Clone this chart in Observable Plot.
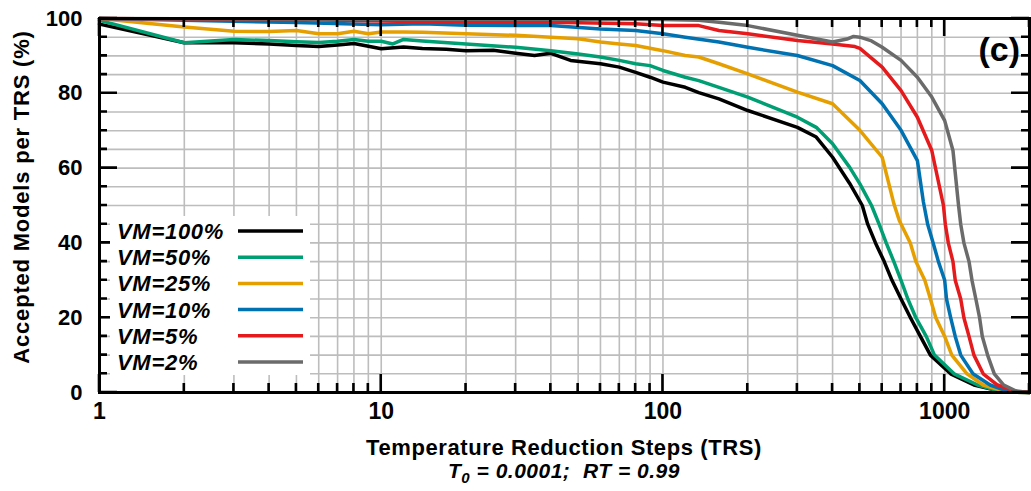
<!DOCTYPE html>
<html><head><meta charset="utf-8">
<script src="https://cdn.jsdelivr.net/npm/d3@7"></script>
<script src="https://cdn.jsdelivr.net/npm/@observablehq/plot@0.6"></script>
<style>
html,body{margin:0;padding:0;background:#fff;}
#chart{position:relative;width:1031px;height:491px;}
</style></head><body><div id="chart"></div>
<script>
// ---- data ----
const seriesNames = ["VM=100%","VM=50%","VM=25%","VM=10%","VM=5%","VM=2%"];
const seriesColors = ["#000000","#009E73","#E69F00","#0072B2","#E41A1C","#6B6B6B"];

const trs100 = [1,2,3,4,5,6,7,8,9,10,12,14,17,20,25,30,35,40,47,60,70,80,90,100,120,134,158,200,300,350,400,460,510,533,568,610,650,700,756,820,890,1050,1270,1540,1800,2000];
const acc100 = [98.5,93.5,93.5,93.2,92.8,92.5,92.9,93.3,92.6,91.9,92.4,92.0,91.8,91.4,91.5,90.7,90.1,90.7,88.8,87.9,87.0,85.6,84.3,83.0,81.6,80.2,78.5,75.4,70.9,68.3,62.9,55.9,50,45,40,35,30,25,20,15,10,5,2,0.5,0.1,0];

const trs50 = [1,2,3,4,5,6,7,8,9,10,11,12,14,20,30,40,50,60,70,80,90,100,120,134,158,200,300,350,400,460,500,550,585,620,660,700,740,790,860,920,1080,1310,1540,1800,2000];
const acc50 = [99.5,93.5,94.4,94.1,93.8,93.6,93.9,94.4,93.9,93.9,93.2,94.4,94.0,93.2,92.3,91.4,90.5,89.7,88.8,87.9,87.4,86.1,84.3,83.4,81.6,79.0,73.6,70.9,66.5,60.2,55.8,50,45,40,35,30,25,20,15,10,5,2,0.5,0.1,0];

const trs25 = [1,2,3,4,5,6,7,8,9,10,12,14,20,30,40,50,60,70,80,100,120,134,158,200,300,400,500,600,660,690,755,790,850,890,930,1000,1060,1200,1370,1600,1800,2000];
const acc25 = [100,97.7,96.6,96.5,96.8,95.9,95.9,96.6,95.9,96.4,96.4,96.3,95.9,95.5,95.0,94.6,93.7,93.2,92.8,91.4,90.1,89.7,87.9,85.2,80.3,77.2,70.1,62.9,50.5,46,40,35,30,25,20,15,10,5,2,0.5,0.1,0];

const trs10 = [1,2,5,10,14,20,40,60,80,100,120,158,200,300,400,500,600,700,800,840,870,910,950,1000,1015,1050,1090,1140,1260,1450,1650,1850,2000];
const acc10 = [100,99.5,98.9,98.3,98.6,98.2,98.1,97.2,96.8,95.9,95.0,93.7,92.3,90.1,87.4,83.4,77.2,70.1,62.0,51,45,40,35,30,25,20,15,10,5,2,0.5,0.1,0];

const trs5 = [1,5,10,20,40,80,100,134,158,200,300,400,480,500,600,700,800,900,990,1005,1030,1070,1090,1140,1170,1220,1270,1370,1540,1750,2000];
const acc5 = [100,99.7,99.3,99.0,99.0,98.6,98.1,98.1,96.8,95.9,94.1,93.2,92.5,92.0,87.0,80.7,73.6,64.7,50,45,40,35,30,25,20,15,10,5,2,0.5,0];

const trs2 = [1,10,50,100,134,158,200,300,400,450,475,500,550,600,700,800,900,1000,1070,1120,1140,1170,1220,1250,1290,1330,1360,1420,1500,1620,1800,2000];
const acc2 = [100,99.8,99.8,99.7,99.5,99.0,98.1,95.5,93.7,94.5,95.2,95.0,94.0,92.3,88.8,84.3,79.0,72.7,64.7,50,45,40,35,30,25,20,15,10,5,2,0.3,0];

const xMajorTicks = [1,10,100,1000];
const xMinorTicks = [2,3,4,5,6,7,8,9,20,30,40,50,60,70,80,90,200,300,400,500,600,700,800,900,2000];
const yMajorTicks = [0,20,40,60,80,100];
const yMinorTicks = [5,10,15,25,30,35,45,50,55,65,70,75,85,90,95];
const yLabels = [0,20,40,60,80,100];

// ---- build table ----
const xs = [trs100,trs50,trs25,trs10,trs5,trs2];
const ys = [acc100,acc50,acc25,acc10,acc5,acc2];
const table = [];
seriesNames.forEach((s,i)=>xs[i].forEach((x,j)=>table.push({series:s, trs:x, pct:ys[i][j]})));

const W=1031,H=491, ML=99, MR=2, MT=18, MB=99;
const FONT = '"Liberation Sans", Arial, Helvetica, sans-serif';
const gridColor = "#bdbdbd";

const plot = Plot.plot({
  width:W, height:H, marginLeft:ML, marginRight:MR, marginTop:MT, marginBottom:MB,
  style:{fontFamily:FONT, background:"white", overflow:"visible", color:"black"},
  x:{type:"log", domain:[1,2000], axis:null},
  y:{domain:[0,100], axis:null},
  color:{domain:seriesNames, range:seriesColors},
  marks:[
    Plot.ruleX(xMinorTicks.concat(xMajorTicks.slice(1)),{stroke:gridColor, strokeWidth:1.6}),
    Plot.ruleY(yMinorTicks.concat(yMajorTicks),{stroke:gridColor, strokeWidth:1.6}),
    Plot.line(table,{x:"trs", y:"pct", z:"series", stroke:"series", strokeWidth:3.5, strokeLinejoin:"round"}),
    Plot.frame({stroke:"black", strokeWidth:3}),
    Plot.text(xMajorTicks,{x:d=>d, text:d=>String(d), frameAnchor:"bottom", dy:10, lineAnchor:"top", fontSize:23, fontWeight:"bold", fill:"black"}),
    Plot.text(yLabels,{y:d=>d, text:d=>String(d), frameAnchor:"left", dx:-17, textAnchor:"end", fontSize:22, fontWeight:"bold", fill:"black"})
  ]
});
document.getElementById("chart").appendChild(plot);

const NS = "http://www.w3.org/2000/svg";
const xScale = plot.scale("x"), yScale = plot.scale("y");
const sx = v => xScale.apply(v);
const sy = v => yScale.apply(v);
const pTop = MT, pBottom = H - MB, pLeft = ML, pRight = W - MR;

// inward tick marks on all four sides, positioned with Plot's scales (drawn as one path)
let dPath = "";
xMinorTicks.map(v=>[v,9]).concat(xMajorTicks.map(v=>[v,18])).forEach(([v,len])=>{
  const x = sx(v).toFixed(2);
  dPath += `M${x},${pBottom}V${pBottom-len}M${x},${pTop}V${pTop+len}`;
});
yMinorTicks.map(v=>[v,8]).concat(yMajorTicks.map(v=>[v,18])).forEach(([v,len])=>{
  const y = sy(v).toFixed(2);
  dPath += `M${pLeft},${y}H${pLeft+len}M${pRight},${y}H${pRight-len}`;
});
const tp = document.createElementNS(NS,"path");
tp.setAttribute("d", dPath);
tp.setAttribute("fill","none");
tp.setAttribute("stroke","#000000");
tp.setAttribute("stroke-width","2.6");
plot.appendChild(tp);

const svg = d3.select(plot);
// y axis title
svg.append("text")
  .attr("transform","translate(29,197) rotate(-90)")
  .attr("text-anchor","middle").attr("font-family",FONT).attr("font-weight","bold")
  .attr("font-size",22).attr("letter-spacing","0.8px").attr("fill","black").text("Accepted Models per TRS (%)");
// x axis title
svg.append("text").attr("x",(pLeft+pRight)/2).attr("y",455)
  .attr("text-anchor","middle").attr("font-family",FONT).attr("font-weight","bold")
  .attr("font-size",22).attr("letter-spacing","0.6px").attr("fill","black").text("Temperature Reduction Steps (TRS)");
const sub = svg.append("text").attr("x",(pLeft+pRight)/2).attr("y",478)
  .attr("text-anchor","middle").attr("font-family",FONT).attr("font-weight","bold")
  .attr("font-style","italic").attr("font-size",21).attr("letter-spacing","0.5px").attr("fill","black").style("white-space","pre");
sub.append("tspan").text("T");
sub.append("tspan").attr("font-size",15).attr("dy",5).text("0");
sub.append("tspan").attr("dy",-5).text(" = 0.0001;  RT = 0.99");
// panel label
svg.append("text").attr("x",1020).attr("y",61).attr("text-anchor","end")
  .attr("font-family",FONT).attr("font-weight","bold").attr("font-size",34).attr("fill","black").text("(c)");
// legend
const lg = svg.append("g");
lg.append("rect").attr("x",110).attr("y",216).attr("width",200).attr("height",159).attr("fill","white");
seriesNames.forEach((s,i)=>{
  const cy = 231 + i*26.2;
  lg.append("text").attr("x",117).attr("y",cy).attr("dy","0.36em").attr("text-anchor","start")
    .attr("font-family",FONT).attr("font-weight","bold").attr("font-style","italic")
    .attr("font-size",22).attr("letter-spacing","0.7px").attr("fill","black").text(s);
  lg.append("line").attr("x1",238).attr("x2",303).attr("y1",cy).attr("y2",cy)
    .attr("stroke",seriesColors[i]).attr("stroke-width",3.5);
});
</script></body></html>
